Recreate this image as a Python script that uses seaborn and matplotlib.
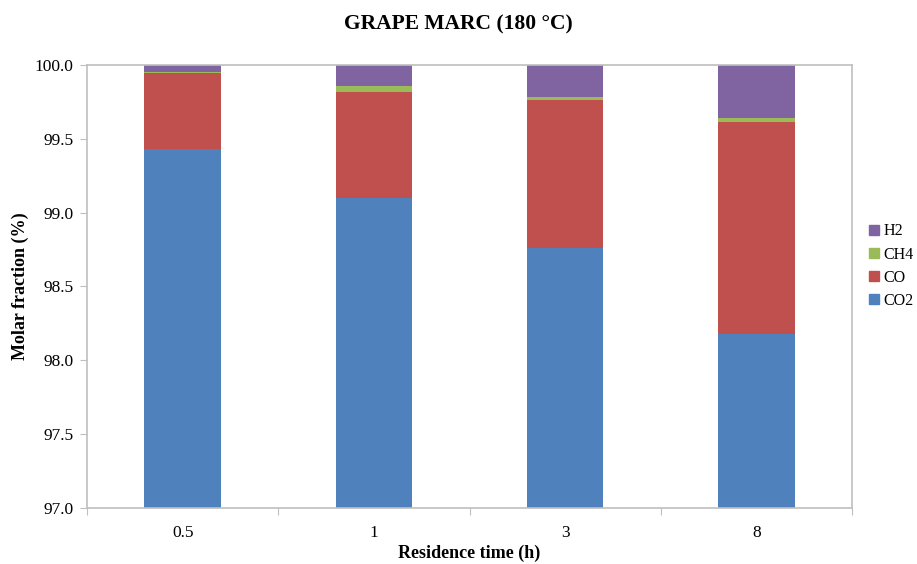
import numpy as np
import pandas as pd
import matplotlib.pyplot as plt
import seaborn as sns
from matplotlib.patches import Patch

# Data (molar fraction, %)
times = ["0.5", "1", "3", "8"]
co2 = [99.43, 99.10, 98.76, 98.18]
co = [0.517, 0.715, 1.005, 1.435]
ch4 = [0.003, 0.045, 0.015, 0.025]
h2 = [0.05, 0.14, 0.22, 0.36]

gases = ["CO2", "CO", "CH4", "H2"]
colors = {"CO2": "#4F81BD", "CO": "#C0504D", "CH4": "#9BBB59", "H2": "#8064A2"}

df = pd.DataFrame({"time": times, "CO2": co2, "CO": co, "CH4": ch4, "H2": h2})
# cumulative tops for stacking
cum = df[gases].cumsum(axis=1)
cum["time"] = times

sns.set_style("white")
plt.rcParams["font.family"] = ["Liberation Serif", "DejaVu Serif"]
plt.rcParams["text.color"] = "black"
plt.rcParams["axes.labelcolor"] = "black"
plt.rcParams["xtick.labelcolor"] = "black"
plt.rcParams["ytick.labelcolor"] = "black"

fig = plt.figure(figsize=(9.17, 5.64), dpi=100)
ax = fig.add_axes([0.0949, 0.0993, 0.8342, 0.7855])

# draw from the top layer down so each lower layer covers the one above
for g in reversed(gases):
    sns.barplot(data=cum, x="time", y=g, order=times, color=colors[g],
                width=0.4, saturation=1, linewidth=0, ax=ax)

ax.set_ylim(97.0, 100.0)
ax.set_xlim(-0.5, 3.5)
yt = np.arange(97.0, 100.01, 0.5)
ax.set_yticks(yt)
ax.set_yticklabels([f"{v:.1f}" for v in yt], fontsize=12.5)

# Excel-style: tick marks between categories, labels at centers
ax.set_xticks([-0.5, 0.5, 1.5, 2.5, 3.5])
ax.set_xticklabels([])
ax.set_xticks(range(len(times)), minor=True)
ax.set_xticklabels(times, minor=True, fontsize=12.5)
ax.tick_params(axis="x", which="major", direction="out", length=5, color="#BFBFBF", bottom=True)
ax.tick_params(axis="x", which="minor", length=0, pad=12)
ax.tick_params(axis="y", direction="out", length=5, color="#BFBFBF", left=True, labelsize=12.5, pad=5)

for s in ax.spines.values():
    s.set_color("#BFBFBF")
    s.set_linewidth(1.2)

ax.set_xlabel("Residence time (h)", fontsize=13, fontweight="bold", labelpad=3)
ax.set_ylabel("Molar fraction (%)", fontsize=13, fontweight="bold", labelpad=4)
fig.suptitle("GRAPE MARC (180 \u00b0C)", fontsize=15.5, fontweight="bold", y=0.975)

handles = [Patch(color=colors[g], label=g) for g in reversed(gases)]
fig.legend(handles=handles, loc="center left", bbox_to_anchor=(0.941, 0.528),
           frameon=False, fontsize=11.5, handlelength=0.6, handleheight=0.6,
           handletextpad=0.3, labelspacing=0.45, borderaxespad=0)

fig.savefig("out.png", dpi=100)
plt.close()
